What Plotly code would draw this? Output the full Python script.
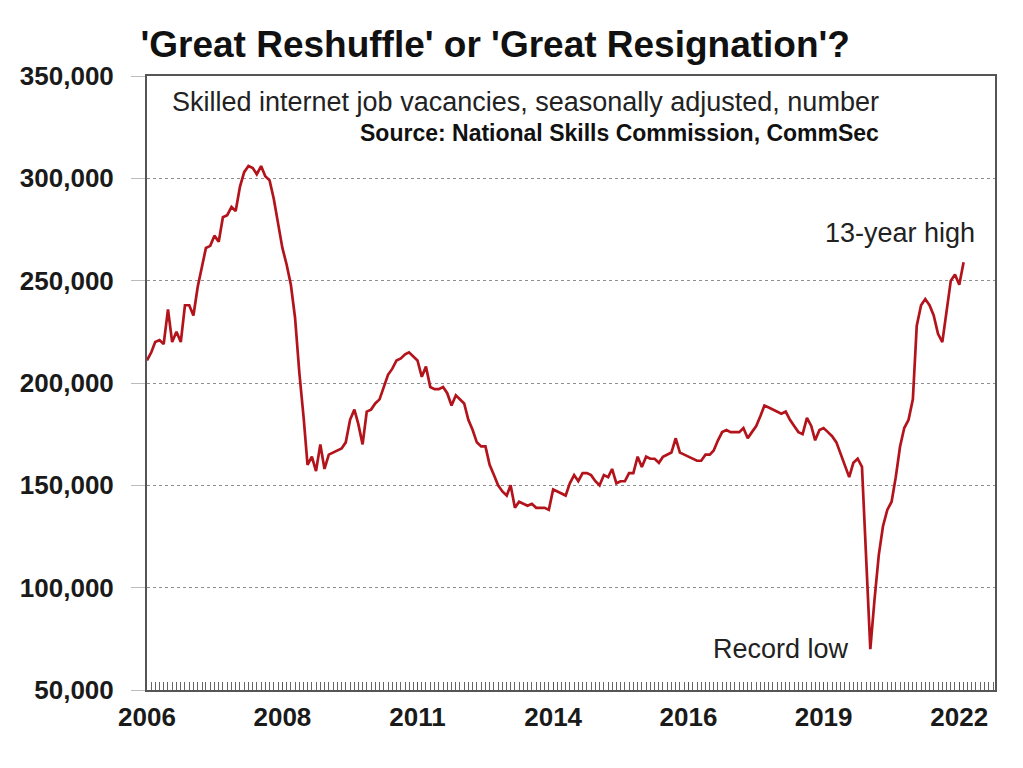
import pandas as pd
import plotly.graph_objects as go

# Skilled internet job vacancies (monthly, seasonally adjusted)
v2006 = [211000, 215000, 220000, 221000, 219000, 236000, 220000, 225000, 220000, 238000, 238000, 233000]
v2007 = [247000, 257000, 266000, 267000, 272000, 269000, 281000, 282000, 286000, 284000, 296000, 303000]
v2008 = [306000, 305000, 302000, 306000, 301000, 299000, 290000, 278000, 266000, 258000, 248000, 232000]
v2009 = [205000, 183000, 160000, 164000, 157000, 170000, 158000, 165000, 166000, 167000, 168000, 171000]
v2010 = [182000, 187000, 180000, 170000, 186000, 187000, 190000, 192000, 198000, 204000, 207000, 211000]
v2011 = [212000, 214000, 215000, 213000, 211000, 203000, 208000, 198000, 197000, 197000, 198000, 195000]
v2012 = [189000, 194000, 192000, 190000, 182000, 177000, 171000, 169000, 169000, 160000, 155000, 150000]
v2013 = [147000, 145000, 150000, 139000, 142000, 141000, 140000, 141000, 139000, 139000, 139000, 138000]
v2014 = [148000, 147000, 146000, 145000, 151000, 155000, 152000, 156000, 156000, 155000, 152000, 150000]
v2015 = [155000, 154000, 158000, 151000, 152000, 152000, 156000, 156000, 164000, 159000, 164000, 163000]
v2016 = [163000, 161000, 164000, 165000, 166000, 173000, 166000, 165000, 164000, 163000, 162000, 162000]
v2017 = [165000, 165000, 167000, 172000, 176000, 177000, 176000, 176000, 176000, 178000, 173000, 176000]
v2018 = [179000, 184000, 189000, 188000, 187000, 186000, 185000, 186000, 182000, 179000, 176000, 175000]
v2019 = [183000, 179000, 172000, 177000, 178000, 176000, 174000, 171000, 165000, 160000, 154000, 161000]
v2020 = [163000, 159000, 115000, 70000, 94000, 116000, 130000, 138000, 142000, 154000, 169000, 178000]
v2021 = [182000, 192000, 228000, 238000, 241000, 238000, 233000, 224000, 220000, 235000, 250000, 253000]
v2022 = [248000, 259000]

vacancies = (v2006 + v2007 + v2008 + v2009 + v2010 + v2011 + v2012 + v2013 +
             v2014 + v2015 + v2016 + v2017 + v2018 + v2019 + v2020 + v2021 + v2022)
months = pd.date_range("2006-01-01", periods=len(vacancies), freq="MS")

tick_dates = ["2006-01-01", "2008-09-01", "2011-05-01", "2014-01-01",
              "2016-09-01", "2019-05-01", "2022-01-01"]
tick_labels = ["2006", "2008", "2011", "2014", "2016", "2019", "2022"]
y_ticks = [50000, 100000, 150000, 200000, 250000, 300000, 350000]

FONT = "Liberation Sans, Arial, sans-serif"

fig = go.Figure()
fig.add_trace(go.Scatter(
    x=months, y=vacancies, mode="lines",
    line=dict(color="#B3141C", width=2.7),
    hoverinfo="skip", showlegend=False,
))

fig.update_layout(
    width=1015, height=760,
    margin=dict(l=135, r=28, t=68, b=78),
    paper_bgcolor="white", plot_bgcolor="white",
    font=dict(family=FONT, color="#1a1a1a"),
    title=dict(
        text="<b>'Great Reshuffle' or 'Great Resignation'?</b>",
        x=0.48, xanchor="center", xref="container",
        y=0.952, yanchor="middle", yref="container",
        font=dict(size=37, family=FONT, color="#111"),
    ),
    xaxis=dict(
        type="date",
        range=["2006-01-01", "2022-09-15"],
        tickmode="array", tickvals=tick_dates, ticktext=tick_labels,
        ticks="inside", ticklen=8, tickcolor="#555", tickwidth=1,
        minor=dict(dtick="M1", tick0="2006-01-01", ticks="inside", ticklen=8,
                   tickcolor="#666", tickwidth=1, showgrid=False),
        showgrid=False,
        showline=True, linecolor="#555", linewidth=2, mirror=True,
        tickfont=dict(size=26, family=FONT, color="#1a1a1a", weight="bold"),
        ticklabelstandoff=3,
        zeroline=False,
    ),
    yaxis=dict(
        range=[50000, 350000],
        tickmode="array", tickvals=y_ticks,
        tickformat=",",
        ticks="outside", ticklen=14, tickcolor="#bbbbbb", tickwidth=1,
        showgrid=True, gridcolor="#8f8f8f", griddash="dot", gridwidth=1,
        showline=True, linecolor="#555", linewidth=2, mirror=True,
        tickfont=dict(size=26, family=FONT, color="#1a1a1a", weight="bold"),
        ticklabelstandoff=12,
        zeroline=False,
    ),
    annotations=[
        dict(text="Skilled internet job vacancies, seasonally adjusted, number",
             xref="paper", yref="paper", x=0.865, y=0.9577,
             xanchor="right", yanchor="middle", showarrow=False,
             font=dict(size=27, family=FONT, color="#222")),
        dict(text="<b>Source: National Skills Commission, CommSec</b>",
             xref="paper", yref="paper", x=0.865, y=0.907,
             xanchor="right", yanchor="middle", showarrow=False,
             font=dict(size=23, family=FONT, color="#111")),
        dict(text="13-year high",
             xref="paper", yref="paper", x=0.979, y=0.744,
             xanchor="right", yanchor="middle", showarrow=False,
             font=dict(size=27, family=FONT, color="#222")),
        dict(text="Record low",
             xref="paper", yref="paper", x=0.7477, y=0.0668,
             xanchor="center", yanchor="middle", showarrow=False,
             font=dict(size=27, family=FONT, color="#222")),
    ],
)

fig.write_html("out.html")
